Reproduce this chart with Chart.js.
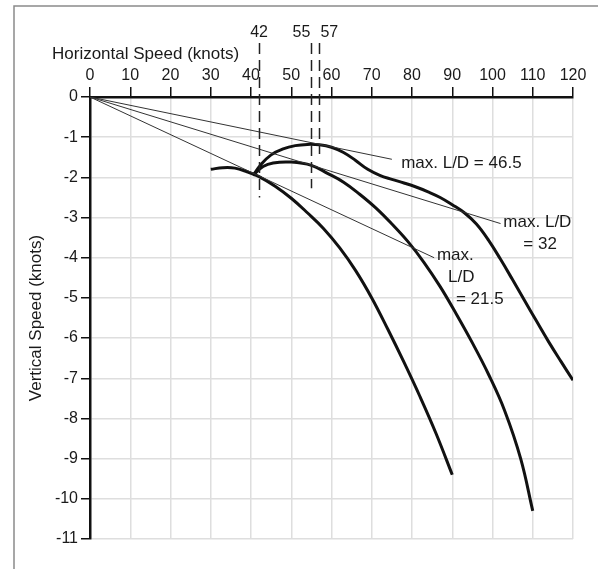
<!DOCTYPE html>
<html>
<head>
<meta charset="utf-8">
<script src="https://cdn.jsdelivr.net/npm/chart.js@4.4.1/dist/chart.umd.min.js"></script>
<style>
  html, body { margin: 0; padding: 0; background: #fff; }
  #wrap { width: 598px; height: 569px; }
</style>
</head>
<body>
<div id="wrap"><canvas id="polarChart" width="598" height="569"></canvas></div>
<script>
// ── polar curves (horizontal speed, vertical speed) ──
const speedA = [30, 33, 36, 39, 42, 46, 50, 54, 58, 62, 66, 70, 74, 78, 82, 86, 90];
const sinkA  = [-1.80, -1.76, -1.77, -1.86, -1.98, -2.22, -2.52, -2.88, -3.27, -3.75, -4.32, -5.00, -5.78, -6.60, -7.46, -8.38, -9.40];

const speedB = [40.5, 43, 45.5, 50, 55, 59, 63, 67, 71, 75, 79, 83, 87, 91, 95, 99, 103, 107, 110];
const sinkB  = [-1.95, -1.73, -1.64, -1.62, -1.70, -1.90, -2.12, -2.42, -2.76, -3.16, -3.60, -4.12, -4.72, -5.40, -6.12, -6.90, -7.80, -9.00, -10.30];

const speedC = [40.5, 42.5, 45, 48, 51, 54, 57, 60, 63, 66, 69, 72, 75, 78, 81, 84, 87, 90, 93, 96, 99, 102, 105, 108, 111, 114, 117, 120];
const sinkC  = [-1.95, -1.68, -1.44, -1.29, -1.21, -1.18, -1.19, -1.25, -1.38, -1.58, -1.80, -1.95, -2.05, -2.14, -2.24, -2.36, -2.50, -2.68, -2.88, -3.16, -3.56, -4.04, -4.55, -5.07, -5.59, -6.10, -6.58, -7.05];

// tangent lines from the origin (end point of each line)
const tangentEndX = [75, 102, 85.5];
const tangentEndY = [-1.55, -3.15, -4.0];

// best L/D speeds (dashed markers) and where each dash line stops
const bestSpeeds = [42, 55, 57];
const bestSpeedEnds = [-2.5, -2.27, -1.42];

// text labels for the tangents
const ldLabels = [
    { lines: ["max. L/D = 46.5"], x: 77.3, y: -1.64 },
    { lines: ["max. L/D", "= 32"], x: 102.7, y: -3.13 },
    { lines: ["max.", "L/D", "= 21.5"], x: 86.2, y: -3.93 }
];

const FONT = '"Liberation Sans", Arial, Helvetica, sans-serif';

function toPoints(xs, ys) {
    return xs.map((x, i) => ({ x: x, y: ys[i] }));
}

const curveStyle = {
    borderColor: "#111",
    borderWidth: 3,
    pointRadius: 0,
    fill: false,
    tension: 0.4
};

const datasets = [];
tangentEndX.forEach((ex, i) => {
    datasets.push({
        data: [{ x: 0, y: 0 }, { x: ex, y: tangentEndY[i] }],
        borderColor: "#333",
        borderWidth: 1,
        pointRadius: 0,
        fill: false
    });
});
datasets.push(Object.assign({ data: toPoints(speedA, sinkA) }, curveStyle));
datasets.push(Object.assign({ data: toPoints(speedB, sinkB) }, curveStyle));
datasets.push(Object.assign({ data: toPoints(speedC, sinkC) }, curveStyle));

// frame, titles, dashed markers and labels
const extras = {
    id: "extras",
    beforeDraw(chart) {
        const c = chart.ctx;
        c.save();
        c.fillStyle = "#fff";
        c.fillRect(0, 0, chart.width, chart.height);
        c.strokeStyle = "#8a8a8a";
        c.lineWidth = 1.5;
        c.strokeRect(14, 6, 700, 700);
        c.restore();
    },
    afterDatasetsDraw(chart) {
        const c = chart.ctx;
        const xs = chart.scales.x, ys = chart.scales.y;
        c.save();
        c.fillStyle = "#1a1a1a";

        // axis titles
        c.font = "17px " + FONT;
        c.textAlign = "left";
        c.textBaseline = "middle";
        c.fillText("Horizontal Speed (knots)", 52, 54);
        c.save();
        c.translate(36, (chart.chartArea.top + chart.chartArea.bottom) / 2);
        c.rotate(-Math.PI / 2);
        c.textAlign = "center";
        c.fillText("Vertical Speed (knots)", 0, 0);
        c.restore();

        // dashed best-speed markers
        c.strokeStyle = "#222";
        c.lineWidth = 1.5;
        c.setLineDash([11, 6]);
        bestSpeeds.forEach((v, i) => {
            const px = Math.round(xs.getPixelForValue(v)) + 0.5;
            c.beginPath();
            c.moveTo(px, 43);
            c.lineTo(px, ys.getPixelForValue(bestSpeedEnds[i]));
            c.stroke();
        });
        c.setLineDash([]);
        c.font = "16px " + FONT;
        c.textBaseline = "middle";
        bestSpeeds.forEach((v, i) => {
            const px = xs.getPixelForValue(v);
            if (i === 0) { c.textAlign = "center"; c.fillText(String(v), px, 33); }
            else if (i === 1) { c.textAlign = "right"; c.fillText(String(v), px - 1, 33); }
            else { c.textAlign = "left"; c.fillText(String(v), px + 1, 33); }
        });

        // L/D labels
        c.font = "17px " + FONT;
        c.textAlign = "left";
        ldLabels.forEach((lab, k) => {
            const px = xs.getPixelForValue(lab.x);
            const py = ys.getPixelForValue(lab.y);
            lab.lines.forEach((t, j) => {
                let dx = 0;
                if (k === 1 && j === 1) dx = 20;
                if (k === 2 && j === 1) dx = 11;
                if (k === 2 && j === 2) dx = 19;
                c.fillText(t, px + dx, py + j * 22);
            });
        });
        c.restore();
    }
};

new Chart(document.getElementById("polarChart").getContext("2d"), {
    type: "line",
    data: { datasets: datasets },
    options: {
        responsive: false,
        animation: false,
        layout: { padding: { top: 0, left: 0, right: 25, bottom: 30 } },
        plugins: { legend: { display: false }, tooltip: { enabled: false } },
        scales: {
            x: {
                type: "linear",
                position: "top",
                min: 0,
                max: 120,
                ticks: { stepSize: 10, color: "#1a1a1a", font: { family: FONT, size: 16 }, padding: 2, maxRotation: 0 },
                grid: { color: "#dedede", lineWidth: 1.5, tickColor: "#111", tickLength: 10 },
                border: { color: "#111", width: 2.5 },
                afterFit(scale) { scale.height = 97; }
            },
            y: {
                type: "linear",
                min: -11,
                max: 0,
                ticks: { stepSize: 1, color: "#1a1a1a", font: { family: FONT, size: 16 }, padding: 3 },
                grid: { color: "#dedede", lineWidth: 1.5, tickColor: "#111", tickLength: 9 },
                border: { color: "#111", width: 2.5 },
                afterFit(scale) { scale.width = 90; }
            }
        }
    },
    plugins: [extras]
});
</script>
</body>
</html>
